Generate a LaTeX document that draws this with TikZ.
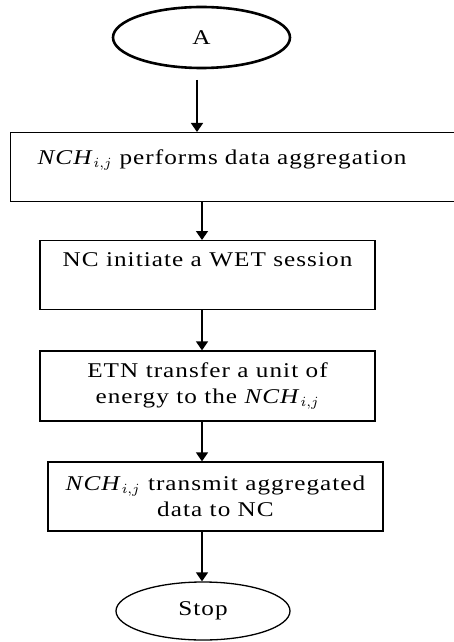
\documentclass[tikz,border=0pt]{standalone}
\usepackage{fontspec}
\setmainfont{Liberation Serif}[FakeStretch=1.2,LetterSpace=5]
\usepackage{tikz}
\usetikzlibrary{arrows.meta,positioning,calc,shapes.geometric}

\newcommand{\nch}{\textit{NCH}$_{i,j}$}

\begin{document}
\begin{tikzpicture}[x=0.5pt,y=-0.5pt,
term/.style={ellipse,draw,line width=0.65pt,inner sep=0pt,font=\fontsize{10.5}{13}\selectfont},
proc/.style={rectangle,draw,line width=0.65pt,inner ysep=0pt,align=center,font=\fontsize{10.5}{13}\selectfont},
flow/.style={-{Triangle[width=6pt,length=4.5pt]},line width=0.75pt}]

\useasboundingbox (0,0) rectangle (454,642);
\node[term, line width=1.3pt, minimum width=88.5pt, minimum height=30.5pt] (A) at (201.5,37.5) {A};
\node[proc, anchor=north west, text width=203pt, inner xsep=13.5pt, align=left, text height=16pt, text depth=18.5pt] (1) at (10,132) {\nch{} performs data aggregation};
\node[proc, anchor=north, minimum width=167.5pt, text height=13pt, text depth=21.5pt] (2) at (207.5,240) {NC initiate a WET session};
\node[proc, minimum width=167.5pt, minimum height=35pt] (3) at (207.5,386) {ETN transfer a unit of\\energy to the \nch};
\node[proc, minimum width=167.5pt, minimum height=34.5pt] (4) at (215.5,496.5) {\nch{} transmit aggregated\\data to NC};
\node[term, minimum width=87pt, minimum height=29pt] (stop) at (203,611) {Stop};

% arrows down the column
\coordinate (a) at (197,80);
\coordinate (c) at (202,0);
\draw[flow] (a) -- (a |- 1.north);
\draw[flow] (1.south -| c) -- (2.north -| c);
\draw[flow] (2.south -| c) -- (3.north -| c);
\draw[flow] (3.south -| c) -- (4.north -| c);
\draw[flow] (4.south -| c) -- (stop.north -| c);
\end{tikzpicture}
\end{document}
